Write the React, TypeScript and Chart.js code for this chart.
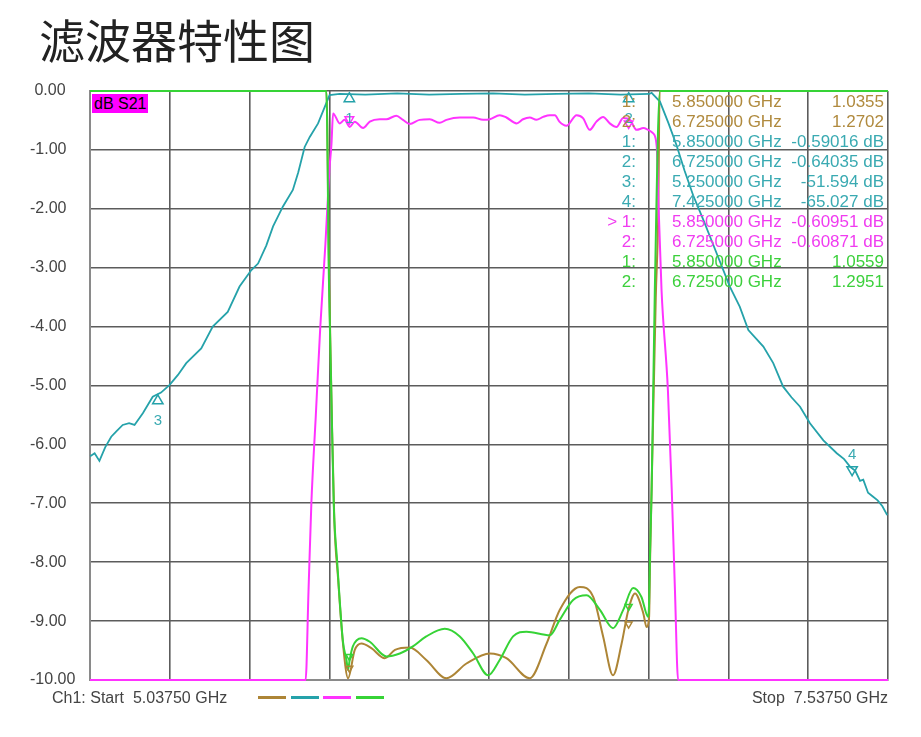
import { useEffect, useRef } from "react";
import { Chart, registerables } from "chart.js";

Chart.register(...registerables);

// ---- axis definition ----
const X_GRID_GHZ = [5.0375, 5.2875, 5.5375, 5.7875, 6.0375, 6.2875, 6.5375, 6.7875, 7.0375, 7.2875, 7.5375];
const Y_MIN = -10;
const Y_MAX = 0;
const START_LABEL = "Ch1: Start  5.03750 GHz";
const STOP_LABEL = "Stop  7.53750 GHz";
const TITLE = "滤波器特性图";
const TRACE_TAG = "dB S21";

// ---- trace 1 (brown) ----
const BRN_F = [5.0375, 5.778, 5.787, 5.795, 5.803, 5.815, 5.83, 5.846, 5.867, 5.888, 5.919, 5.961, 5.993, 6.039, 6.091, 6.154, 6.217, 6.29, 6.342, 6.415, 6.468, 6.509, 6.572, 6.614, 6.645, 6.676, 6.703, 6.724, 6.745, 6.771, 6.781, 6.789, 6.792, 6.8, 6.81, 6.818, 6.822, 7.5375];
const BRN_Y = [0, 0, -3.3, -5.5, -7.3, -8.3, -9.38, -9.97, -9.49, -9.38, -9.46, -9.63, -9.49, -9.45, -9.66, -9.97, -9.72, -9.55, -9.63, -9.97, -9.38, -8.81, -8.42, -8.59, -9.26, -9.92, -9.38, -8.81, -8.53, -8.87, -9.1, -8.93, -8.0, -6.0, -3.5, -2.0, 0, 0];

// ---- trace 2 (teal) ----
const TEAL_F = [5.038, 5.052, 5.067, 5.085, 5.104, 5.12, 5.14, 5.16, 5.177, 5.203, 5.234, 5.26, 5.287, 5.313, 5.339, 5.386, 5.422, 5.469, 5.506, 5.543, 5.564, 5.59, 5.611, 5.642, 5.673, 5.69, 5.71, 5.726, 5.752, 5.773, 5.788, 5.82, 5.9, 6.0, 6.1, 6.2, 6.3, 6.4, 6.5, 6.6, 6.7, 6.79, 6.797, 6.823, 6.85, 6.875, 6.9, 6.927, 6.96, 6.99, 7.042, 7.073, 7.1, 7.147, 7.178, 7.209, 7.235, 7.262, 7.293, 7.335, 7.377, 7.4, 7.419, 7.435, 7.45, 7.46, 7.475, 7.491, 7.505, 7.52, 7.535];
const TEAL_DB = [-6.2, -6.15, -6.28, -6.05, -5.87, -5.78, -5.67, -5.64, -5.67, -5.47, -5.19, -5.12, -4.99, -4.82, -4.62, -4.37, -4.0, -3.75, -3.32, -3.04, -2.93, -2.62, -2.3, -1.96, -1.68, -1.38, -0.95, -0.78, -0.55, -0.27, -0.07, -0.05, -0.06, -0.04, -0.06, -0.05, -0.04, -0.06, -0.05, -0.04, -0.06, -0.05, -0.03, -0.18, -0.55, -0.92, -1.35, -1.77, -2.2, -2.61, -3.32, -3.66, -4.06, -4.34, -4.62, -5.02, -5.2, -5.36, -5.64, -5.93, -6.15, -6.25, -6.38, -6.45, -6.62, -6.6, -6.82, -6.89, -6.95, -7.05, -7.2];

// ---- trace 3 (magenta, dB S21) ----
const MAG_F = [5.0375, 5.713, 5.722, 5.731, 5.745, 5.759, 5.775, 5.788, 5.794, 5.799, 5.82, 5.835, 5.851, 5.867, 5.893, 5.914, 5.945, 5.966, 5.997, 6.018, 6.039, 6.07, 6.102, 6.133, 6.154, 6.196, 6.238, 6.269, 6.29, 6.321, 6.342, 6.374, 6.394, 6.415, 6.436, 6.457, 6.478, 6.494, 6.508, 6.53, 6.562, 6.582, 6.603, 6.624, 6.645, 6.666, 6.687, 6.708, 6.729, 6.75, 6.771, 6.786, 6.802, 6.813, 6.817, 6.828, 6.848, 6.86, 6.87, 6.88, 7.5375];
const MAG_DB = [-10, -10, -8.5, -7.0, -5.5, -4.0, -2.6, -1.3, -0.9, -0.38, -0.55, -0.49, -0.61, -0.52, -0.63, -0.52, -0.48, -0.48, -0.42, -0.49, -0.56, -0.49, -0.48, -0.54, -0.49, -0.45, -0.45, -0.49, -0.48, -0.41, -0.45, -0.55, -0.48, -0.45, -0.49, -0.44, -0.41, -0.41, -0.52, -0.59, -0.41, -0.46, -0.66, -0.52, -0.44, -0.55, -0.61, -0.46, -0.49, -0.66, -0.63, -0.66, -0.72, -0.95, -1.68, -3.38, -5.08, -6.77, -8.47, -10, -10];

// ---- trace 4 (green) ----
const GRN_F = [5.0375, 5.778, 5.786, 5.793, 5.801, 5.812, 5.83, 5.841, 5.846, 5.851, 5.861, 5.888, 5.914, 5.966, 6.008, 6.049, 6.091, 6.149, 6.196, 6.238, 6.285, 6.321, 6.363, 6.405, 6.478, 6.509, 6.551, 6.593, 6.635, 6.676, 6.708, 6.739, 6.765, 6.786, 6.789, 6.792, 6.797, 6.807, 6.823, 7.5375];
const GRN_Y = [0, 0, -3.2, -5.0, -7.0, -8.0, -9.35, -9.66, -9.83, -9.66, -9.43, -9.29, -9.35, -9.6, -9.55, -9.43, -9.26, -9.13, -9.26, -9.55, -9.92, -9.66, -9.26, -9.18, -9.24, -8.98, -8.64, -8.56, -8.81, -9.12, -8.81, -8.44, -8.59, -8.93, -8.7, -7.84, -6.77, -3.38, 0, 0];

// ---- markers ----
const TEAL_MARK_F = [5.85, 6.725, 5.25, 7.425];
const TEAL_MARK_Y = [-0.13, -0.13, -5.26, -6.43];
const TEAL_MARK_DOWN = [false, false, false, true];
const TEAL_MARK_LABEL = ["1", "2", "3", "4"];
const MAG_MARK_F = [5.85, 6.725];
const MAG_MARK_Y = [-0.48, -0.55];
const GRN_MARK_F = [5.85, 6.725];
const GRN_MARK_Y = [-9.6, -8.75];
const BRN_MARK_F = [5.85, 6.725];
const BRN_MARK_Y = [-9.8, -9.05];

// ---- marker readout ----
const READ_INDEX = ["1:", "2:", "1:", "2:", "3:", "4:", "> 1:", "2:", "1:", "2:"];
const READ_FREQ = ["5.850000 GHz", "6.725000 GHz", "5.850000 GHz", "6.725000 GHz", "5.250000 GHz", "7.425000 GHz", "5.850000 GHz", "6.725000 GHz", "5.850000 GHz", "6.725000 GHz"];
const READ_VALUE = ["1.0355", "1.2702", "-0.59016 dB", "-0.64035 dB", "-51.594 dB", "-65.027 dB", "-0.60951 dB", "-0.60871 dB", "1.0559", "1.2951"];
const READ_TRACE = [0, 0, 1, 1, 1, 1, 2, 2, 3, 3];

const COLORS = ["#ad8536", "#25a2aa", "#ff33ff", "#36d336"];
const TEXT_COLORS = ["#b08a3e", "#3aaab2", "#f03cf0", "#3cd03c"];
const FONT = '"Liberation Sans", Arial, sans-serif';

function pts(f: number[], v: number[]) {
  const n = Math.min(f.length, v.length);
  const out: { x: number; y: number }[] = [];
  for (let i = 0; i < n; i++) out.push({ x: f[i], y: v[i] });
  return out;
}

const markerLabelPlugin = {
  id: "markerLabels",
  afterDatasetsDraw(chart: any) {
    const { ctx } = chart;
    const xs = chart.scales.x;
    const ys = chart.scales.y;
    ctx.save();
    ctx.font = "15px " + FONT;
    ctx.fillStyle = TEXT_COLORS[1];
    ctx.textAlign = "center";
    ctx.textBaseline = "middle";
    for (let i = 0; i < TEAL_MARK_F.length; i++) {
      const px = xs.getPixelForValue(TEAL_MARK_F[i]);
      const py = ys.getPixelForValue(TEAL_MARK_Y[i]);
      ctx.fillText(TEAL_MARK_LABEL[i], px, TEAL_MARK_DOWN[i] ? py - 15 : py + 20);
    }
    ctx.restore();
  },
};

export default function App() {
  const ref = useRef<HTMLCanvasElement>(null);

  useEffect(() => {
    const canvas = ref.current;
    if (!canvas) return;
    const traceBase = { pointRadius: 0, borderWidth: 2, fill: false, clip: 3 };
    const markerBase = {
      showLine: false,
      pointStyle: "triangle",
      backgroundColor: "rgba(0,0,0,0)",
      pointBorderWidth: 1.5,
      clip: 6,
    };
    const chart = new Chart(canvas, {
      type: "line",
      data: {
        datasets: [
          { ...traceBase, label: "S11", data: pts(BRN_F, BRN_Y), borderColor: COLORS[0], cubicInterpolationMode: "monotone", order: 3 },
          { ...traceBase, label: "S21 wide", data: pts(TEAL_F, TEAL_DB), borderColor: COLORS[1], borderWidth: 1.8, tension: 0, order: 2 },
          { ...traceBase, label: "dB S21", data: pts(MAG_F, MAG_DB), borderColor: COLORS[2], cubicInterpolationMode: "monotone", order: 1 },
          { ...traceBase, label: "S22", data: pts(GRN_F, GRN_Y), borderColor: COLORS[3], cubicInterpolationMode: "monotone", order: 0 },
          {
            ...markerBase,
            label: "m teal",
            data: pts(TEAL_MARK_F, TEAL_MARK_Y),
            borderColor: COLORS[1],
            pointBorderColor: COLORS[1],
            pointRadius: 6,
            pointRotation: TEAL_MARK_DOWN.map((d) => (d ? 180 : 0)),
            order: -1,
          } as any,
          {
            ...markerBase,
            label: "m mag",
            data: pts(MAG_MARK_F, MAG_MARK_Y),
            borderColor: COLORS[2],
            pointBorderColor: COLORS[2],
            pointRadius: 5,
            pointRotation: 180,
            order: -1,
          } as any,
          {
            ...markerBase,
            label: "m grn",
            data: pts(GRN_MARK_F, GRN_MARK_Y),
            borderColor: COLORS[3],
            pointBorderColor: COLORS[3],
            pointRadius: 4,
            pointRotation: 180,
            order: -1,
          } as any,
          {
            ...markerBase,
            label: "m brn",
            data: pts(BRN_MARK_F, BRN_MARK_Y),
            borderColor: COLORS[0],
            pointBorderColor: COLORS[0],
            pointRadius: 4,
            pointRotation: 180,
            order: -1,
          } as any,
        ],
      },
      options: {
        responsive: false,
        animation: false,
        events: [],
        layout: { padding: { left: 30, right: 33, top: 91, bottom: 57 } },
        plugins: { legend: { display: false }, tooltip: { enabled: false }, title: { display: false } },
        scales: {
          x: {
            type: "linear",
            min: X_GRID_GHZ[0],
            max: X_GRID_GHZ[X_GRID_GHZ.length - 1],
            afterBuildTicks: (axis: any) => {
              axis.ticks = X_GRID_GHZ.map((v) => ({ value: v }));
            },
            afterFit: (axis: any) => {
              axis.height = 0;
            },
            ticks: { display: false },
            grid: { color: "#5c5c5c", lineWidth: 1.6, drawTicks: false },
            border: { display: true, color: "#8a8a8a", width: 2 },
          },
          y: {
            type: "linear",
            min: Y_MIN,
            max: Y_MAX,
            afterFit: (axis: any) => {
              axis.width = 60;
            },
            ticks: {
              stepSize: 1,
              crossAlign: "far",
              color: "#444",
              font: { family: FONT, size: 16 },
              callback: (v: any) => (Number(v) === 0 ? " 0.00" : Number(v).toFixed(2)),
            },
            grid: { color: "#5c5c5c", lineWidth: 1.6, drawTicks: false },
            border: { display: true, color: "#8a8a8a", width: 2 },
          },
        },
      },
      plugins: [markerLabelPlugin],
    } as any);
    return () => chart.destroy();
  }, []);

  const abs = { position: "absolute" as const, whiteSpace: "pre" as const };

  return (
    <div style={{ position: "absolute", left: 0, top: 0, width: 921, height: 737, background: "#fff", overflow: "hidden" }}>
      <canvas ref={ref} width={921} height={737} style={{ position: "absolute", left: 0, top: 0, width: 921, height: 737 }} />
      <div style={{ ...abs, left: 39, top: 15, fontFamily: '"Noto Sans CJK SC", sans-serif', fontSize: 46, lineHeight: "46px", color: "#222" }}>
        {TITLE}
      </div>
      <div style={{ ...abs, left: 92, top: 94, height: 19, lineHeight: "19px", fontFamily: FONT, fontSize: 16, padding: "0 2px", background: "#ff00ff", color: "#000" }}>
        {TRACE_TAG}
      </div>
      {READ_INDEX.map((idx, i) => (
        <div key={"r" + i} style={{ ...abs, left: 0, top: 92 + i * 20, width: 921, height: 20, fontFamily: FONT, fontSize: 17, lineHeight: "20px", color: TEXT_COLORS[READ_TRACE[i]] }}>
          <span style={{ position: "absolute", right: 921 - 636 }}>{idx}</span>
          <span style={{ position: "absolute", left: 672 }}>{READ_FREQ[i]}</span>
          <span style={{ position: "absolute", right: 921 - 884 }}>{READ_VALUE[i]}</span>
        </div>
      ))}
      <div style={{ ...abs, left: 52, top: 688, fontFamily: FONT, fontSize: 16, lineHeight: "20px", color: "#444" }}>{START_LABEL}</div>
      {COLORS.map((c, i) => (
        <div key={"l" + i} style={{ position: "absolute", left: 258 + i * 32.5, top: 696, width: 28, height: 3, background: c }} />
      ))}
      <div style={{ ...abs, right: 921 - 888, top: 688, fontFamily: FONT, fontSize: 16, lineHeight: "20px", color: "#444" }}>{STOP_LABEL}</div>
    </div>
  );
}
